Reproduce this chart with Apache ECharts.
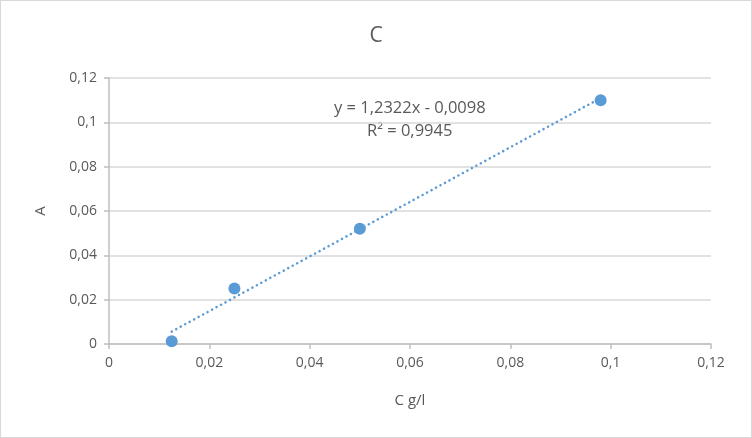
<!DOCTYPE html>
<html>
<head>
<meta charset="utf-8">
<script src="https://cdn.jsdelivr.net/npm/echarts@6/dist/echarts.min.js"></script>
<style>
  html, body { margin: 0; padding: 0; background: #fff; }
  #chart { width: 750px; height: 436px; border: 1px solid #d9d9d9; }
</style>
</head>
<body>
<div id="chart"></div>
<script>
var concentration = [0.0125, 0.025, 0.05, 0.098];
var absorbance = [0.0012, 0.025, 0.052, 0.110];
var slope = 1.2322;
var intercept = -0.0098;
var equationText = 'y = 1,2322x - 0,0098';
var r2Text = 'R² = 0,9945';

var points = concentration.map(function (c, i) { return [c, absorbance[i]]; });
var xFirst = concentration[0], xLast = concentration[concentration.length - 1];
var trend = [[xFirst, slope * xFirst + intercept], [xLast, slope * xLast + intercept]];

function fmt(v) {
    return String(Math.round(v * 100) / 100).replace('.', ',');
}

var myChart = echarts.init(document.getElementById('chart'));

var labelColor = '#595959';
var font = 'Open Sans, Calibri, sans-serif';

var option = {
    animation: false,
    title: {
        text: 'C',
        left: 'center',
        top: 20,
        textStyle: { color: labelColor, fontSize: 21, fontWeight: 'normal', fontFamily: font }
    },
    grid: { left: 108, right: 40, top: 77, bottom: 93 },
    xAxis: {
        type: 'value',
        min: 0, max: 0.12, interval: 0.02,
        name: 'C g/l',
        nameLocation: 'middle',
        nameGap: 49,
        nameTextStyle: { color: labelColor, fontSize: 15, fontFamily: font },
        axisLine: { lineStyle: { color: '#bfbfbf', width: 1.5 } },
        axisTick: { show: true, length: 5, lineStyle: { color: '#bfbfbf', width: 1.5 } },
        splitLine: { show: false },
        axisLabel: { color: labelColor, fontSize: 14, fontFamily: font, margin: 12, formatter: fmt }
    },
    yAxis: {
        type: 'value',
        min: 0, max: 0.12, interval: 0.02,
        name: 'A',
        nameLocation: 'middle',
        nameGap: 61,
        nameTextStyle: { color: labelColor, fontSize: 15, fontFamily: font },
        axisLine: { show: true, lineStyle: { color: '#bfbfbf', width: 1.5 } },
        axisTick: { show: true, length: 5, lineStyle: { color: '#bfbfbf', width: 1.5 } },
        splitLine: { show: true, lineStyle: { color: '#d9d9d9', width: 1.5 } },
        axisLabel: { color: labelColor, fontSize: 14, fontFamily: font, margin: 12, formatter: fmt }
    },
    series: [
        {
            name: 'trend',
            type: 'line',
            data: trend,
            showSymbol: false,
            symbol: 'none',
            lineStyle: { color: '#5b9bd5', width: 2.5, type: [0.1, 5], cap: 'round' },
            z: 1
        },
        {
            name: 'A',
            type: 'scatter',
            data: points,
            symbolSize: 12,
            itemStyle: { color: '#5b9bd5', opacity: 1 },
            z: 2
        }
    ],
    graphic: [
        {
            type: 'text',
            left: 333, top: 99,
            style: { text: equationText, fill: labelColor, fontSize: 16.5, fontFamily: font }
        },
        {
            type: 'text',
            left: 366, top: 122,
            style: { text: r2Text, fill: labelColor, fontSize: 16.5, fontFamily: font }
        }
    ]
};

myChart.setOption(option);
window.addEventListener('resize', function () { myChart.resize(); });
</script>
</body>
</html>
